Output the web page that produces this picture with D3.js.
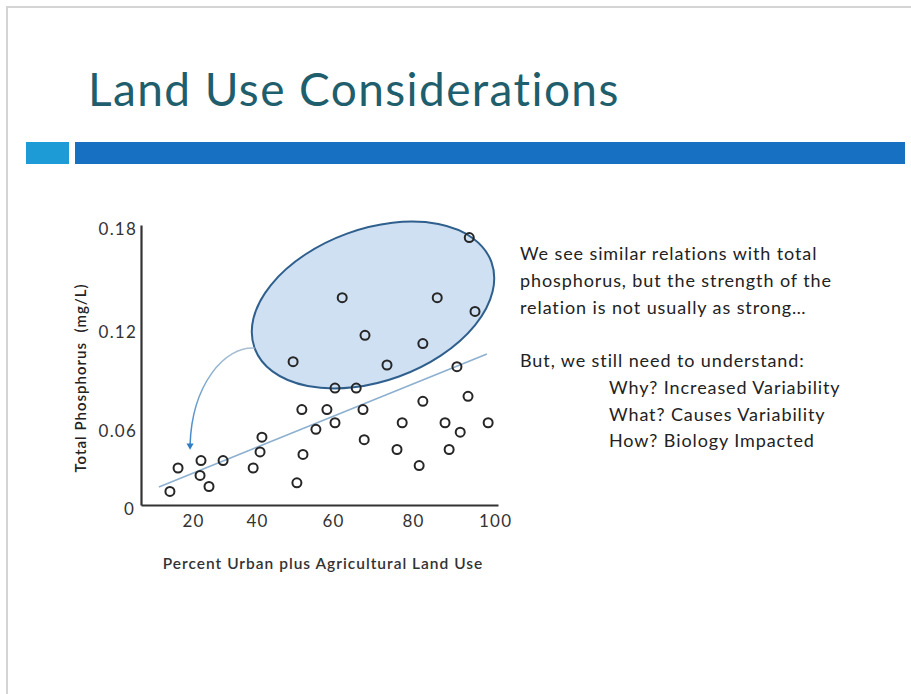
<!DOCTYPE html>
<html>
<head>
<meta charset="utf-8">
<script src="https://cdn.jsdelivr.net/npm/d3@7"></script>
<style>
  body { margin: 0; background: #fff; }
  text { font-family: Lato, "Open Sans", sans-serif; }
</style>
</head>
<body>
<script>
// values
var pctLand = [93.7, 62.3, 85.9, 95.1, 68, 82.4, 49.5, 73.5, 90.7, 60.5, 65.8, 93.4, 82.4,
  51.8, 58.4, 67.5, 55.5, 60.5, 77.3, 87.8, 98.3, 91.5, 41.3, 67.8, 40.8, 52.1, 76, 88.8,
  22.5, 29.4, 15.4, 38.8, 81.5, 22.2, 50.5, 25, 12.9];
var totalP = [0.175, 0.140, 0.140, 0.132, 0.118, 0.113, 0.102, 0.100, 0.099, 0.086, 0.086, 0.081, 0.078,
  0.073, 0.073, 0.073, 0.061, 0.065, 0.065, 0.065, 0.065, 0.059, 0.055, 0.053, 0.043, 0.041, 0.045, 0.045,
  0.036, 0.036, 0.030, 0.030, 0.032, 0.024, 0.018, 0.015, 0.011];
var trendX = [9.5, 98];
var trendY = [0.0146, 0.1067];
var xTicks = [20, 40, 60, 80, 100];
var yTicks = [0, 0.06, 0.12, 0.18];
var notes = ["We see similar relations with total",
  "phosphorus, but the strength of the",
  "relation is not usually as strong\u2026"];
var questions = ["Why? Increased Variability", "What? Causes Variability", "How? Biology Impacted"];

var W = 911, H = 694;

var svg = d3.select('body').append('svg')
  .attr('width', W)
  .attr('height', H);

// slide frame
svg.append('rect')
  .attr('x', 7).attr('y', 7)
  .attr('width', W + 20).attr('height', H + 20)
  .attr('fill', '#fff')
  .attr('stroke', '#d4d4d4')
  .attr('stroke-width', 2);

svg.append('text')
  .attr('x', 88).attr('y', 106)
  .attr('fill', '#1f5e6c')
  .style('font-size', '46px')
  .style('letter-spacing', '1.4px')
  .text('Land Use Considerations');

// header bars
svg.append('rect').attr('x', 26).attr('y', 142).attr('width', 43).attr('height', 22).attr('fill', '#1d9bd6');
svg.append('rect').attr('x', 75).attr('y', 142).attr('width', 830).attr('height', 22).attr('fill', '#1870c2');

// the original axes are not evenly spaced, so piecewise scales
var x = d3.scaleLinear()
  .domain([4, 20, 40, 60, 80, 100.7])
  .range([141, 193, 257, 333, 413, 498]);

var y = d3.scaleLinear()
  .domain([0, 0.06, 0.12, 0.18, 0.1835])
  .range([505, 431, 332, 229, 225]);

// highlighted cloud of high values
var ell = {cx: x(70), cy: y(0.1357), rx: 126, ry: 76, rot: -20};
svg.append('ellipse')
  .attr('transform', 'translate(' + ell.cx + ',' + ell.cy + ') rotate(' + ell.rot + ')')
  .attr('rx', ell.rx).attr('ry', ell.ry)
  .attr('fill', '#cfe0f3')
  .attr('stroke', '#2f5f8c')
  .attr('stroke-width', 2);

// curved arrow from ellipse down to the low end
var ang = ell.rot * Math.PI / 180;
var sx = ell.cx - ell.rx * Math.cos(ang), sy = ell.cy - ell.rx * Math.sin(ang);
var ex = x(19.1), ey = y(0.049);
var p = d3.path();
p.moveTo(sx, sy);
p.bezierCurveTo(sx - 30, sy - 2, ex + 2, ey - 60, ex, ey);
var defs = svg.append('defs');
var grad = defs.append('linearGradient').attr('id', 'arrowGrad')
  .attr('x1', 0).attr('y1', 0).attr('x2', 0).attr('y2', 1);
grad.append('stop').attr('offset', '0%').attr('stop-color', '#a9bfd3');
grad.append('stop').attr('offset', '100%').attr('stop-color', '#3d86c6');
svg.append('path')
  .attr('d', p.toString())
  .attr('fill', 'none')
  .attr('stroke', 'url(#arrowGrad)')
  .attr('stroke-width', 1.5);
svg.append('path')
  .attr('d', d3.symbol().type(d3.symbolTriangle).size(22)())
  .attr('transform', 'translate(' + ex + ',' + (ey + 1) + ') rotate(180)')
  .attr('fill', '#2f7ec4');

// trend line
svg.append('path')
  .datum(d3.zip(trendX, trendY))
  .attr('d', d3.line().x(function(d) { return x(d[0]); }).y(function(d) { return y(d[1]); }))
  .attr('stroke', '#8db0cf')
  .attr('stroke-width', 1.6)
  .attr('fill', 'none');

// axes
var xAxis = svg.append('g')
  .attr('transform', 'translate(0,' + y(0) + ')')
  .call(d3.axisBottom(x).tickValues(xTicks).tickSize(0).tickPadding(10).tickFormat(d3.format('d')));
var yAxis = svg.append('g')
  .attr('transform', 'translate(' + x(4) + ',0)')
  .call(d3.axisLeft(y).tickValues(yTicks).tickSize(0).tickPadding(4)
    .tickFormat(function(d) { return d === 0 ? '0' : d.toFixed(2); }));
[xAxis, yAxis].forEach(function(a) {
  a.select('.domain').attr('stroke', '#333').attr('stroke-width', 2.2);
  a.selectAll('text').attr('fill', '#333')
    .style('font-size', '17px')
    .style('letter-spacing', '1.2px')
    .style('font-family', 'Lato, sans-serif');
});
yAxis.selectAll('.tick').filter(function(d) { return d === 0; }).select('text').attr('dy', '0.55em').attr('x', -6);

// points
svg.append('g').selectAll('circle')
  .data(d3.zip(pctLand, totalP))
  .enter().append('circle')
  .attr('cx', function(d) { return x(d[0]); })
  .attr('cy', function(d) { return y(d[1]); })
  .attr('r', 4.5)
  .attr('fill', 'none')
  .attr('stroke', '#262626')
  .attr('stroke-width', 2);

// axis titles
svg.append('text')
  .attr('transform', 'translate(86,378) rotate(-90)')
  .attr('text-anchor', 'middle')
  .attr('fill', '#222')
  .style('font-size', '15px')
  .style('font-weight', 600)
  .style('letter-spacing', '1px')
  .style('white-space', 'pre')
  .text('Total Phosphorus  (mg/L)');

svg.append('text')
  .attr('x', 323).attr('y', 569)
  .attr('text-anchor', 'middle')
  .attr('fill', '#333')
  .style('font-size', '15.5px')
  .style('font-weight', 600)
  .style('letter-spacing', '1px')
  .text('Percent Urban plus Agricultural Land Use');

// side notes
var side = svg.append('g').attr('fill', '#222')
  .style('font-size', '18px')
  .style('letter-spacing', '0.9px');
side.selectAll('.note').data(notes).enter().append('text')
  .attr('x', 520)
  .attr('y', function(d, i) { return 260 + i * 26.8; })
  .text(function(d) { return d; });
side.append('text').attr('x', 520).attr('y', 367).text('But, we still need to understand:');
side.selectAll('.q').data(questions).enter().append('text')
  .attr('x', 609)
  .attr('y', function(d, i) { return 394 + i * 26.5; })
  .text(function(d) { return d; });
</script>
</body>
</html>
